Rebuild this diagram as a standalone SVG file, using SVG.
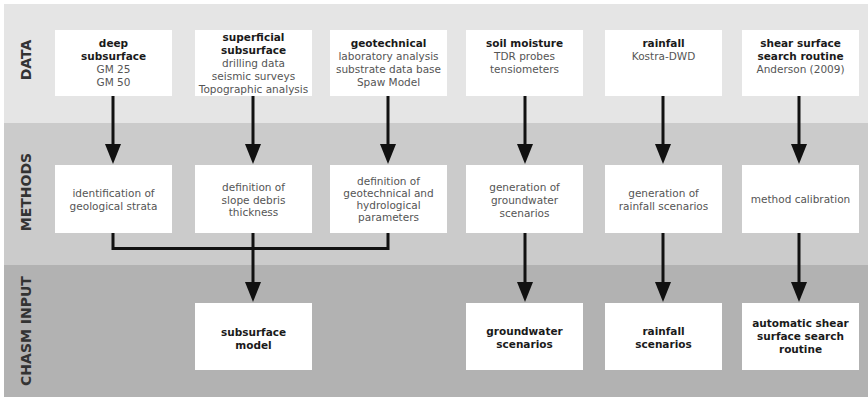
<svg xmlns="http://www.w3.org/2000/svg" width="868" height="397" viewBox="0 0 868 397">
  <style>
    .band-label { font-family: "DejaVu Sans", Verdana, sans-serif; font-size: 14px; font-weight: bold; fill: #333; text-anchor: middle; }
    .box { fill: #ffffff; }
    .t { font-family: "DejaVu Sans", Verdana, sans-serif; font-size: 10.5px; text-anchor: middle; fill: #555; }
    .b { font-weight: bold; fill: #1a1a1a; }
    .conn { fill: none; stroke: #111; stroke-width: 3; }
  </style>
  <defs>
    <marker id="arrow" viewBox="0 0 20 16" refX="0" refY="8" markerWidth="20" markerHeight="16" markerUnits="userSpaceOnUse" orient="auto">
      <path d="M0,0 L20,8 L0,16 z" fill="#111"/>
    </marker>
  </defs>

  <!-- background and bands -->
  <rect x="0" y="0" width="868" height="397" fill="#ffffff"/>
  <rect x="4" y="4" width="864" height="119" fill="#e5e5e5"/>
  <rect x="4" y="123" width="864" height="142" fill="#cbcbcb"/>
  <rect x="4" y="265" width="864" height="132" fill="#b2b2b2"/>

  <g id="band-labels">
    <text class="band-label" transform="translate(30.5,60) rotate(-90)">DATA</text>
    <text class="band-label" transform="translate(30.5,192) rotate(-90)">METHODS</text>
    <text class="band-label" transform="translate(30.5,331) rotate(-90)">CHASM INPUT</text>
  </g>

  <!-- DATA row -->
  <g id="data-deep">
    <rect class="box" x="55" y="30" width="117" height="66"/>
    <text class="t b" x="113.5" y="47">deep</text>
    <text class="t b" x="113.5" y="60">subsurface</text>
    <text class="t" x="113.5" y="73">GM 25</text>
    <text class="t" x="113.5" y="86">GM 50</text>
  </g>
  <g id="data-superficial">
    <rect class="box" x="195" y="30" width="117" height="66"/>
    <text class="t b" x="253.5" y="41">superficial</text>
    <text class="t b" x="253.5" y="54">subsurface</text>
    <text class="t" x="253.5" y="67">drilling data</text>
    <text class="t" x="253.5" y="80">seismic surveys</text>
    <text class="t" x="253.5" y="93">Topographic analysis</text>
  </g>
  <g id="data-geotechnical">
    <rect class="box" x="330" y="30" width="117" height="66"/>
    <text class="t b" x="388.5" y="47">geotechnical</text>
    <text class="t" x="388.5" y="60">laboratory analysis</text>
    <text class="t" x="388.5" y="73">substrate data base</text>
    <text class="t" x="388.5" y="86">Spaw Model</text>
  </g>
  <g id="data-soil">
    <rect class="box" x="466" y="30" width="117" height="66"/>
    <text class="t b" x="524.5" y="47">soil moisture</text>
    <text class="t" x="524.5" y="60">TDR probes</text>
    <text class="t" x="524.5" y="73">tensiometers</text>
  </g>
  <g id="data-rainfall">
    <rect class="box" x="605" y="30" width="117" height="66"/>
    <text class="t b" x="663.5" y="47">rainfall</text>
    <text class="t" x="663.5" y="60">Kostra-DWD</text>
  </g>
  <g id="data-shear">
    <rect class="box" x="742" y="30" width="117" height="66"/>
    <text class="t b" x="800.5" y="47">shear surface</text>
    <text class="t b" x="800.5" y="60">search routine</text>
    <text class="t" x="800.5" y="73">Anderson (2009)</text>
  </g>

  <!-- METHODS row -->
  <g id="method-strata">
    <rect class="box" x="55" y="165" width="117" height="68"/>
    <text class="t" x="113.5" y="197">identification of</text>
    <text class="t" x="113.5" y="209.5">geological strata</text>
  </g>
  <g id="method-debris">
    <rect class="box" x="195" y="165" width="117" height="68"/>
    <text class="t" x="253.5" y="191">definition of</text>
    <text class="t" x="253.5" y="203.5">slope debris</text>
    <text class="t" x="253.5" y="216">thickness</text>
  </g>
  <g id="method-parameters">
    <rect class="box" x="330" y="165" width="117" height="68"/>
    <text class="t" x="388.5" y="185">definition of</text>
    <text class="t" x="388.5" y="197">geotechnical and</text>
    <text class="t" x="388.5" y="209">hydrological</text>
    <text class="t" x="388.5" y="221">parameters</text>
  </g>
  <g id="method-groundwater">
    <rect class="box" x="466" y="165" width="117" height="68"/>
    <text class="t" x="524.5" y="191">generation of</text>
    <text class="t" x="524.5" y="204">groundwater</text>
    <text class="t" x="524.5" y="217">scenarios</text>
  </g>
  <g id="method-rainfall">
    <rect class="box" x="605" y="165" width="117" height="68"/>
    <text class="t" x="663.5" y="197">generation of</text>
    <text class="t" x="663.5" y="210">rainfall scenarios</text>
  </g>
  <g id="method-calibration">
    <rect class="box" x="742" y="165" width="117" height="68"/>
    <text class="t" x="800.5" y="203">method calibration</text>
  </g>

  <!-- CHASM INPUT row -->
  <g id="input-subsurface">
    <rect class="box" x="195" y="303" width="117" height="67"/>
    <text class="t b" x="253.5" y="336">subsurface</text>
    <text class="t b" x="253.5" y="349">model</text>
  </g>
  <g id="input-groundwater">
    <rect class="box" x="466" y="303" width="117" height="67"/>
    <text class="t b" x="524.5" y="335">groundwater</text>
    <text class="t b" x="524.5" y="348">scenarios</text>
  </g>
  <g id="input-rainfall">
    <rect class="box" x="605" y="303" width="117" height="67"/>
    <text class="t b" x="663.5" y="335">rainfall</text>
    <text class="t b" x="663.5" y="348">scenarios</text>
  </g>
  <g id="input-shear">
    <rect class="box" x="742" y="303" width="117" height="67"/>
    <text class="t b" x="800.5" y="327">automatic shear</text>
    <text class="t b" x="800.5" y="340">surface search</text>
    <text class="t b" x="800.5" y="353">routine</text>
  </g>

  <!-- connectors -->
  <g id="connectors">
    <path class="conn" d="M113,96 V144" marker-end="url(#arrow)"/>
    <path class="conn" d="M253,96 V144" marker-end="url(#arrow)"/>
    <path class="conn" d="M388,96 V144" marker-end="url(#arrow)"/>
    <path class="conn" d="M525,96 V144" marker-end="url(#arrow)"/>
    <path class="conn" d="M663,96 V144" marker-end="url(#arrow)"/>
    <path class="conn" d="M799,96 V144" marker-end="url(#arrow)"/>

    <path class="conn" d="M113,233 V248.5 H388 V233"/>
    <path class="conn" d="M253,233 V282" marker-end="url(#arrow)"/>
    <path class="conn" d="M525,233 V282" marker-end="url(#arrow)"/>
    <path class="conn" d="M663,233 V282" marker-end="url(#arrow)"/>
    <path class="conn" d="M799,233 V282" marker-end="url(#arrow)"/>
  </g>
</svg>
